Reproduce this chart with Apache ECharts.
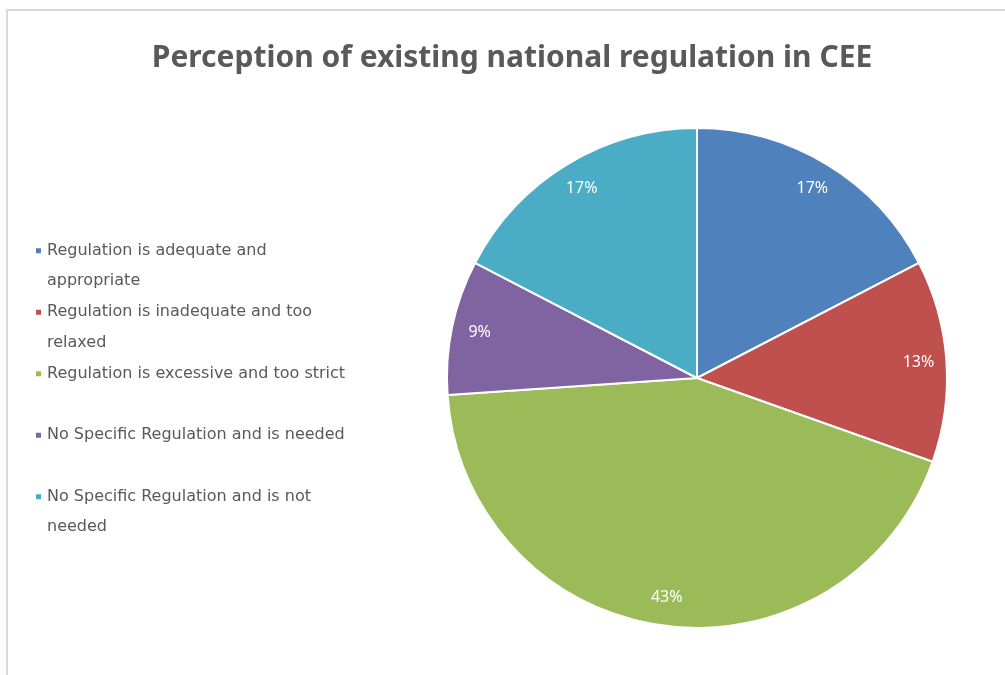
<!DOCTYPE html>
<html>
<head>
<meta charset="utf-8">
<script src="https://cdn.jsdelivr.net/npm/echarts@6/dist/echarts.min.js"></script>
<style>
    html, body { margin: 0; padding: 0; background: #fff; }
    #frame {
        position: absolute; left: 6px; top: 9px; width: 1010px; height: 680px;
        border-left: 2px solid #d9d9d9; border-top: 2px solid #d9d9d9;
    }
    #main { position: absolute; left: 0; top: 0; width: 1005px; height: 675px; }
</style>
</head>
<body>
<div id="frame"></div>
<div id="main"></div>
<script>
var categories = [
    'Regulation is adequate and appropriate',
    'Regulation is inadequate and too relaxed',
    'Regulation is excessive and too strict',
    'No Specific Regulation and is needed',
    'No Specific Regulation and is not needed'
];
// legend text as it wraps in the original
var legendLines = [
    ['Regulation is adequate and', 'appropriate'],
    ['Regulation is inadequate and too', 'relaxed'],
    ['Regulation is excessive and too strict', ' '],
    ['No Specific Regulation and is needed', ' '],
    ['No Specific Regulation and is not', 'needed']
];
var counts = [4, 3, 10, 2, 4];
var colors = ['#4F81BD', '#C0504D', '#9BBB59', '#8064A2', '#4BACC6'];

function initChart(con) {
    var chart = echarts.init(document.getElementById(con));
    var total = counts.reduce(function (a, b) { return a + b }, 0);
    var data = categories.map(function (name, i) {
        return { name: name, value: counts[i] }
    });
    var option = {
        color: colors,
        title: {
            text: 'Perception of existing national regulation in CEE',
            left: 507,
            textAlign: 'center',
            top: 38,
            textStyle: {
                fontFamily: 'Noto Sans',
                fontSize: 30,
                fontWeight: 'bold',
                color: '#595959'
            }
        },
        legend: {
            orient: 'vertical',
            left: 29,
            top: 200,
            icon: 'rect',
            itemWidth: 7,
            itemHeight: 7,
            itemGap: -30,
            formatter: function (name) {
                // blank first line keeps the icon level with the first text line
                return ' \n' + legendLines[categories.indexOf(name)].join('\n')
            },
            textStyle: {
                fontFamily: 'DejaVu Sans',
                fontSize: 16,
                color: '#595959',
                lineHeight: 30.5
            }
        },
        series: [
            {
                type: 'pie',
                center: [697, 378],
                radius: 250,
                startAngle: 90,
                label: { show: false },
                labelLine: { show: false },
                itemStyle: { borderColor: '#fff', borderWidth: 2 },
                emphasis: { disabled: true },
                data: data
            },
            {
                // ring only carries the data labels near the rim
                type: 'pie',
                center: [697, 378],
                radius: [188, 250],
                startAngle: 90,
                silent: true,
                itemStyle: { color: 'transparent' },
                emphasis: { disabled: true },
                labelLine: { show: false },
                label: {
                    show: true,
                    position: 'inside',
                    color: '#fff',
                    fontFamily: 'Noto Sans',
                    fontSize: 16,
                    formatter: function (p) {
                        return Math.round(p.value / total * 100) + '%'
                    }
                },
                data: data
            }
        ]
    };
    chart.setOption(option);
}
initChart('main');
</script>
</body>
</html>
